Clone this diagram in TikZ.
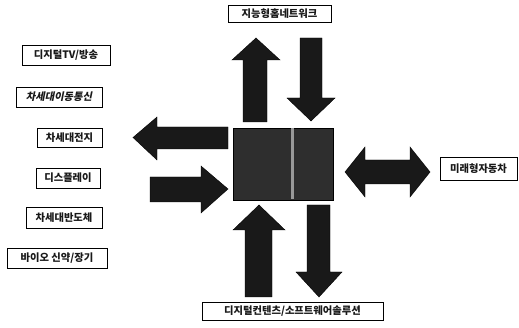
\documentclass[tikz,border=0pt]{standalone}
\usepackage{fontspec}
\setmainfont{Noto Sans CJK KR}
\newfontfamily\slantko[FakeSlant=0.2]{Noto Sans CJK KR}
\begin{document}
\begin{tikzpicture}[x=1pt,y=-1pt,
  lbl/.style={draw=black,line width=0.9pt,fill=white,inner sep=0pt,font=\fontsize{10.3}{11}\selectfont\bfseries,text=black!90},
  arr/.style={fill=black!90,draw=black,line width=0.4pt,line join=miter}]
\useasboundingbox (0,0) rectangle (519,328);
% labels
\node[lbl,minimum width=88pt,minimum height=20pt] (tv) at (66,55) {디지털TV/방송};
\node[lbl,minimum width=86pt,minimum height=20pt] (mob) at (59,97) {\slantko\bfseries 차세대이동통신};
\node[lbl,minimum width=65pt,minimum height=19pt] (bat) at (69.5,137.5) {차세대전지};
\node[lbl,minimum width=64pt,minimum height=20pt] (disp) at (68,178) {디스플레이};
\node[lbl,minimum width=76pt,minimum height=21pt] (semi) at (64,217.5) {차세대반도체};
\node[lbl,minimum width=100pt,minimum height=20pt] (bio) at (57,258) {바이오 신약/장기};
\node[lbl,minimum width=103pt,minimum height=17pt] (home) at (279.5,13.5) {지능형홈네트워크};
\node[lbl,minimum width=77pt,minimum height=23pt] (car) at (478.5,168.5) {미래형자동차};
\node[lbl,minimum width=181pt,minimum height=18pt] (soft) at (292.5,311) {디지털컨텐츠/소프트웨어솔루션};
% center block
\node[draw=black,fill=black!82,minimum width=100pt,minimum height=72pt,inner sep=0pt] (core) at (283,164) {};
\fill[black!40] (291,128.5) rectangle (293.5,199.5);
% top arrows
\draw[arr] (243,122) -- (243,60) -- (232,60) -- (256,38) -- (280,60) -- (267,60) -- (267,122) -- cycle;
\draw[arr] (300,38) -- (300,98) -- (287,98) -- (311,121) -- (335,98) -- (322,98) -- (322,38) -- cycle;
% left arrows
\draw[arr] (228,127) -- (157,127) -- (157,117) -- (133,137.5) -- (157,160) -- (157,149) -- (228,149) -- cycle;
\draw[arr] (150,177) -- (201,177) -- (201,166) -- (228,189) -- (201,213) -- (201,202) -- (150,202) -- cycle;
% bottom arrows
\draw[arr] (245,297) -- (245,230) -- (233,230) -- (259,205) -- (285,230) -- (272,230) -- (272,297) -- cycle;
\draw[arr] (307,205) -- (307,272) -- (296,272) -- (319,297) -- (342,272) -- (330,272) -- (330,205) -- cycle;
% double arrow
\draw[arr] (345,172) -- (365,147) -- (365,160) -- (410,160) -- (410,147) -- (430,172) -- (410,197) -- (410,184) -- (365,184) -- (365,197) -- cycle;
\end{tikzpicture}
\end{document}
